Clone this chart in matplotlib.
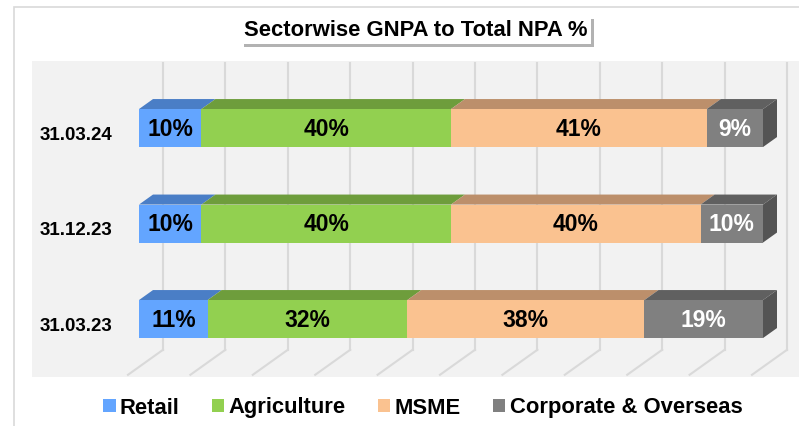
import matplotlib
matplotlib.use("Agg")
import matplotlib.pyplot as plt
from matplotlib.patches import Rectangle, Polygon, Patch
from matplotlib.lines import Line2D
import matplotlib.patheffects as pe

plt.rcParams['font.family'] = ['Liberation Sans', 'DejaVu Sans']

# data
dates = ['31.03.23', '31.12.23', '31.03.24']
sectors = ['Retail', 'Agriculture', 'MSME', 'Corporate & Overseas']
retail = [11, 10, 10]
agriculture = [32, 40, 40]
msme = [38, 40, 41]
corporate = [19, 10, 9]
series = [retail, agriculture, msme, corporate]

front_colors = ['#63A5FF', '#92D050', '#FAC290', '#808080']
top_colors = ['#4A7EC6', '#6E9D3C', '#BC8F6B', '#606060']
side_color = '#545454'
label_colors = ['black', 'black', 'black', 'white']

W, H, DPI = 799, 426, 100
fig = plt.figure(figsize=(W / DPI, H / DPI), dpi=DPI)

# outer chart border and grey wall/floor area
fig.add_artist(Rectangle((14 / W, -0.1), 1.0, 1 - 7 / H + 0.1, transform=fig.transFigure,
                         fill=False, ec='#D9D9D9', lw=1.2))
fig.add_artist(Rectangle((32 / W, 1 - 377 / H), 1.0, (377 - 61) / H, transform=fig.transFigure,
                         fc='#F2F2F2', ec='none', zorder=0))

# axes: front plane of bars, x in %, one unit per category in y
px_y = 95.5
ax = fig.add_axes([139 / W, (H - 366.8) / H, 624 / W, 3 * px_y / H])
ax.set_xlim(0, 100)
ax.set_ylim(-0.5, 2.5)
ax.axis('off')
ax.patch.set_visible(False)

ux = 624 / 100.0          # pixels per % unit
bar_dx, bar_dy = 14 / ux, 10 / px_y
back_dx, back_dy = 24 / ux, 17 / px_y
floor_dx, floor_dy = -11 / ux, -8 / px_y
bar_h = 38 / px_y

# back wall gridlines and floor diagonals
grid_c = '#D9D9D9'
for g in range(0, 101, 10):
    ax.add_line(Line2D([g + back_dx, g + back_dx], [-0.5 + back_dy, 2.5 + back_dy],
                       color=grid_c, lw=1.5, clip_on=False, zorder=1))
    ax.add_line(Line2D([g + back_dx, g + floor_dx], [-0.5 + back_dy, -0.5 + floor_dy],
                       color=grid_c, lw=1.5, clip_on=False, zorder=1))

# 3D stacked bars
for i, d in enumerate(dates):
    left = 0
    bot = i - bar_h / 2
    top = i + bar_h / 2
    for k, vals in enumerate(series):
        v = vals[i]
        r = left + v
        ax.add_patch(Polygon([(left, top), (r, top), (r + bar_dx, top + bar_dy),
                              (left + bar_dx, top + bar_dy)], closed=True,
                             fc=top_colors[k], ec='none', clip_on=False, zorder=3))
        ax.add_patch(Rectangle((left, bot), v, bar_h, fc=front_colors[k], ec='none',
                               clip_on=False, zorder=4))
        if k == len(series) - 1:
            ax.add_patch(Polygon([(r, bot), (r + bar_dx, bot + bar_dy),
                                  (r + bar_dx, top + bar_dy), (r, top)], closed=True,
                                 fc=side_color, ec='none', clip_on=False, zorder=3))
        ax.text(left + v / 2, i - 1 / px_y, f'{v}%', ha='center', va='center', fontsize=16.5,
                fontweight='bold', color=label_colors[k], zorder=5)
        left = r
    ax.text(-27 / ux, i - 7 / px_y, d, ha='right', va='center', fontsize=13.5,
            fontweight='bold', color='black')

# title box with shadow
t = fig.text(416 / W, 1 - 30 / H, 'Sectorwise GNPA to Total NPA %', ha='center', va='center',
             fontsize=15.8, fontweight='bold', color='black',
             bbox=dict(boxstyle='square,pad=0.15', fc='white', ec='none'))
t.get_bbox_patch().set_path_effects([
    pe.withSimplePatchShadow(offset=(2.2, -2.2), shadow_rgbFace='#7F7F7F', alpha=0.6),
    pe.Normal()])

# legend
handles = [Patch(fc=c, ec='none') for c in front_colors]
fig.legend(handles, sectors, loc='center', bbox_to_anchor=(423 / W, 1 - 408 / H), ncol=4,
           frameon=False, prop={'weight': 'bold', 'size': 15.8}, handlelength=0.55,
           handleheight=0.55, handletextpad=0.2, columnspacing=1.48)

fig.savefig('out.png', dpi=DPI)
